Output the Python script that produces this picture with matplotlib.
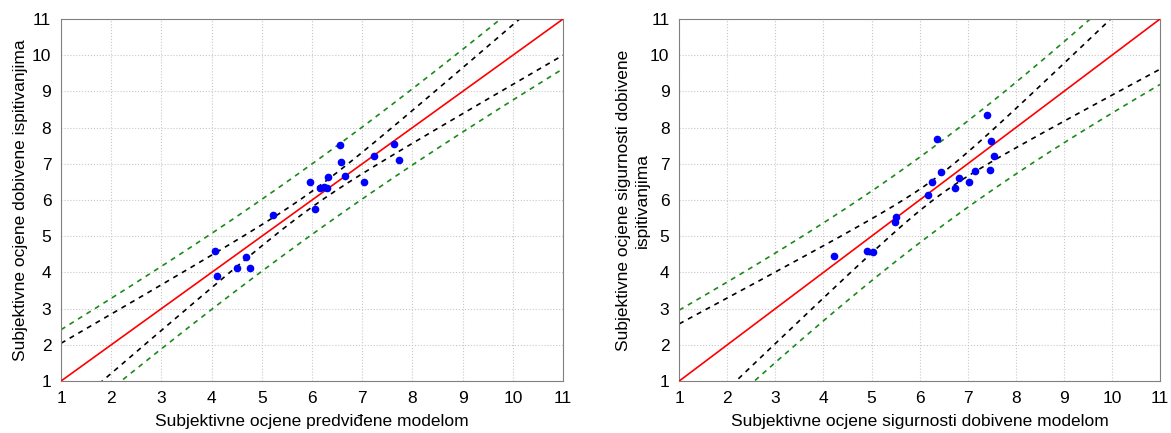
import numpy as np
from matplotlib import pyplot as plt

# left panel: predicted by model vs. obtained in tests
left_x = [6.56, 7.63, 7.24, 7.73, 6.57, 6.66, 6.31, 5.95, 7.03, 6.16, 6.23, 6.29,
          6.05, 5.23, 4.07, 4.10, 4.69, 4.50, 4.76]
left_y = [7.52, 7.55, 7.22, 7.10, 7.05, 6.66, 6.64, 6.49, 6.50, 6.33, 6.35, 6.32,
          5.75, 5.59, 4.59, 3.91, 4.43, 4.11, 4.11]

# right panel: certainty ratings
right_x = [7.40, 6.36, 7.49, 7.54, 6.44, 7.15, 7.46, 6.82, 6.25, 7.03, 6.74, 6.17,
           5.51, 5.48, 4.23, 4.90, 5.03]
right_y = [8.35, 7.69, 7.63, 7.22, 6.77, 6.80, 6.84, 6.60, 6.51, 6.51, 6.33, 6.15,
           5.52, 5.40, 4.45, 4.59, 4.57]

ticks = list(range(1, 12))
left_xlabel = "Subjektivne ocjene predviđene modelom"
left_ylabel = "Subjektivne ocjene dobivene ispitivanjima"
right_xlabel = "Subjektivne ocjene sigurnosti dobivene modelom"
right_ylabel = "Subjektivne ocjene sigurnosti dobivene\nispitivanjima"

T_95 = {19: 2.110, 17: 2.131}

plt.rcParams['font.family'] = ['Liberation Sans', 'DejaVu Sans']


def bands(x, y, xs):
    x = np.asarray(x)
    y = np.asarray(y)
    n = len(x)
    b, a = np.polyfit(x, y, 1)
    res = y - (a + b * x)
    s = np.sqrt(np.sum(res ** 2) / (n - 2))
    sxx = np.sum((x - x.mean()) ** 2)
    t = T_95[n]
    fit = a + b * xs
    ci = t * s * np.sqrt(1.0 / n + (xs - x.mean()) ** 2 / sxx)
    pi = t * s * np.sqrt(1 + 1.0 / n + (xs - x.mean()) ** 2 / sxx)
    return fit, ci, pi


def draw_panel(ax, x, y, xlabel, ylabel, ypad):
    xs = np.linspace(1, 11, 300)
    fit, ci, pi = bands(x, y, xs)
    ax.plot([1, 11], [1, 11], color='red', lw=1.2, zorder=3)
    for sign in (1, -1):
        ax.plot(xs, fit + sign * ci, color='black', lw=1.2, ls=(0, (3, 3)), zorder=2)
        ax.plot(xs, fit + sign * pi, color='#1a8a1a', lw=1.2, ls=(0, (3, 3)), zorder=2)
    ax.plot(x, y, 'o', color='#0000ff', ms=4.5, zorder=4)
    ax.set_xlim(1, 11)
    ax.set_ylim(1, 11)
    ax.set_xticks(ticks)
    ax.set_yticks(ticks)
    ax.grid(True, ls=':', color='#c8c8c8', lw=0.8)
    ax.tick_params(axis='x', length=0, labelsize=12.5, pad=7)
    ax.tick_params(axis='y', length=0, labelsize=12.5, pad=7)
    for sp in ax.spines.values():
        sp.set_color('#808080')
    ax.set_xlabel(xlabel, fontsize=12.5, labelpad=6)
    ax.set_ylabel(ylabel, fontsize=12.5, labelpad=ypad, linespacing=1.35)


fig = plt.figure(figsize=(11.71, 4.33), dpi=100)
ax1 = fig.add_axes([0.0521, 0.120, 0.4287, 0.836])
ax2 = fig.add_axes([0.580, 0.120, 0.4106, 0.836])
draw_panel(ax1, left_x, left_y, left_xlabel, left_ylabel, 3)
draw_panel(ax2, right_x, right_y, right_xlabel, right_ylabel, 0)

fig.savefig('out.png', dpi=100)
